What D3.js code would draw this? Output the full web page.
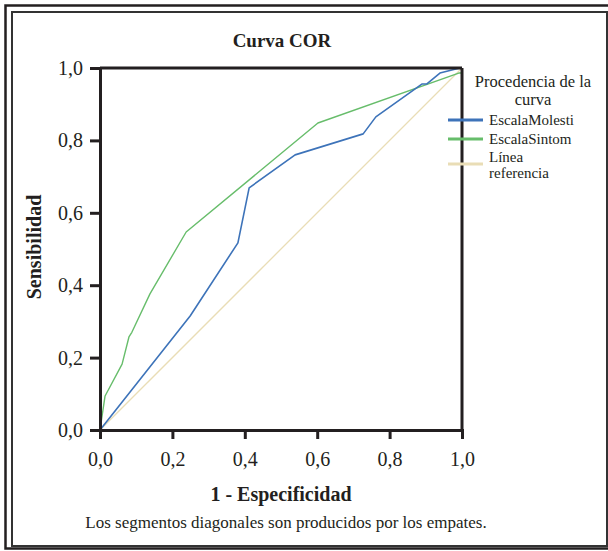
<!DOCTYPE html>
<html>
<head>
<meta charset="utf-8">
<script src="https://cdn.jsdelivr.net/npm/d3@7"></script>
<style>
  body { margin: 0; background: #fff; }
  svg { display: block; font-family: "Liberation Serif", "Times New Roman", serif; }
</style>
</head>
<body>
<div id="chart"></div>
<script>
// Data
var ticks = [0, 0.2, 0.4, 0.6, 0.8, 1.0];
var molestiX = [0, 0.249, 0.381, 0.412, 0.539, 0.727, 0.762, 0.890, 0.903, 0.939, 0.994, 1];
var molestiY = [0, 0.315, 0.517, 0.669, 0.760, 0.818, 0.865, 0.956, 0.956, 0.986, 1.0, 1];
var sintomX = [0, 0.014, 0.061, 0.080, 0.088, 0.138, 0.238, 0.602, 0.991, 1, 1];
var sintomY = [0, 0.094, 0.182, 0.257, 0.270, 0.376, 0.547, 0.848, 0.986, 0.986, 1];
var refX = [0, 1];
var refY = [0, 1];
var seriesNames = ["EscalaMolesti", "EscalaSintom", "Línea referencia"];
var colors = ["#3d73b9", "#67bd6b", "#e9ddb6"];

var svgWidth = 608;
var svgHeight = 551;
var ink = "#231f20";

// plot area
var margin = { left: 100, top: 68 };
var plotW = 362, plotH = 362;

var svg = d3.select("#chart")
  .append("svg")
  .attr("width", svgWidth)
  .attr("height", svgHeight);

// double frame
svg.append("rect")
  .attr("x", 5.5).attr("y", 5.5)
  .attr("width", 620).attr("height", 543)
  .attr("fill", "none").attr("stroke", ink).attr("stroke-width", 2.5);
svg.append("rect")
  .attr("x", 12).attr("y", 12)
  .attr("width", 595).attr("height", 534)
  .attr("fill", "none").attr("stroke", "#333").attr("stroke-width", 2);

var x = d3.scaleLinear().domain([0, 1]).range([0, plotW]);
var y = d3.scaleLinear().domain([0, 1]).range([plotH, 0]);

var g = svg.append("g")
  .attr("transform", "translate(" + margin.left + "," + margin.top + ")");

var fmt = function(d) { return d3.format(".1f")(d).replace(".", ","); };

// lines
var line = d3.line()
  .x(function(d) { return x(d[0]); })
  .y(function(d) { return y(d[1]); });

var series = [
  { xs: refX, ys: refY, w: 1.3 },
  { xs: sintomX, ys: sintomY, w: 1.4 },
  { xs: molestiX, ys: molestiY, w: 1.6 }
];
var order = [2, 1, 0];
series.forEach(function(s, i) {
  g.append("path")
    .datum(d3.zip(s.xs, s.ys))
    .attr("fill", "none")
    .attr("stroke", colors[order[i]])
    .attr("stroke-width", s.w)
    .attr("stroke-linejoin", "round")
    .attr("d", line);
});

// frame top / right
g.append("line").attr("x1", 0).attr("x2", plotW).attr("y1", 0).attr("y2", 0)
  .attr("stroke", ink).attr("stroke-width", 3);
g.append("line").attr("x1", plotW).attr("x2", plotW).attr("y1", 0).attr("y2", plotH)
  .attr("stroke", ink).attr("stroke-width", 3);

// axes
var xAxis = g.append("g")
  .attr("transform", "translate(0," + plotH + ")")
  .call(d3.axisBottom(x).tickValues(ticks).tickFormat(fmt).tickSize(9).tickPadding(13));
var yAxis = g.append("g")
  .call(d3.axisLeft(y).tickValues(ticks).tickFormat(fmt).tickSize(10).tickPadding(7));

[xAxis, yAxis].forEach(function(a) {
  a.select(".domain").attr("stroke", ink).attr("stroke-width", 3);
  a.selectAll(".tick line").attr("stroke", ink).attr("stroke-width", 3);
  a.selectAll(".tick text")
    .attr("fill", ink)
    .attr("font-family", "Liberation Serif, serif")
    .attr("font-size", 20);
});

// title and axis labels
svg.append("text")
  .attr("x", 282).attr("y", 47)
  .attr("text-anchor", "middle")
  .attr("font-size", 19).attr("font-weight", "bold").attr("fill", ink)
  .text("Curva COR");

svg.append("text")
  .attr("x", 281).attr("y", 501)
  .attr("text-anchor", "middle")
  .attr("font-size", 20).attr("font-weight", "bold").attr("fill", ink)
  .text("1 - Especificidad");

svg.append("text")
  .attr("transform", "translate(41,247) rotate(-90)")
  .attr("text-anchor", "middle")
  .attr("font-size", 20).attr("font-weight", "bold").attr("fill", ink)
  .text("Sensibilidad");

svg.append("text")
  .attr("x", 286).attr("y", 528)
  .attr("text-anchor", "middle")
  .attr("font-size", 17).attr("fill", ink)
  .text("Los segmentos diagonales son producidos por los empates.");

// legend
var legend = svg.append("g");
legend.append("text")
  .attr("x", 533).attr("y", 87)
  .attr("text-anchor", "middle").attr("font-size", 16.5).attr("fill", ink)
  .text("Procedencia de la");
legend.append("text")
  .attr("x", 533).attr("y", 105)
  .attr("text-anchor", "middle").attr("font-size", 16.5).attr("fill", ink)
  .text("curva");

var legendY = [120, 139, 164];
seriesNames.forEach(function(name, i) {
  legend.append("line")
    .attr("x1", 448).attr("x2", 483)
    .attr("y1", legendY[i]).attr("y2", legendY[i])
    .attr("stroke", colors[i]).attr("stroke-width", 2.8);
  var t = legend.append("text")
    .attr("x", 489).attr("font-size", 15).attr("fill", ink);
  if (i < 2) {
    t.attr("y", legendY[i] + 5).text(name);
  } else {
    var parts = name.split(" ");
    t.attr("y", 162);
    t.append("tspan").attr("x", 489).text(parts[0]);
    t.append("tspan").attr("x", 489).attr("dy", 16).text(parts[1]);
  }
});
</script>
</body>
</html>
